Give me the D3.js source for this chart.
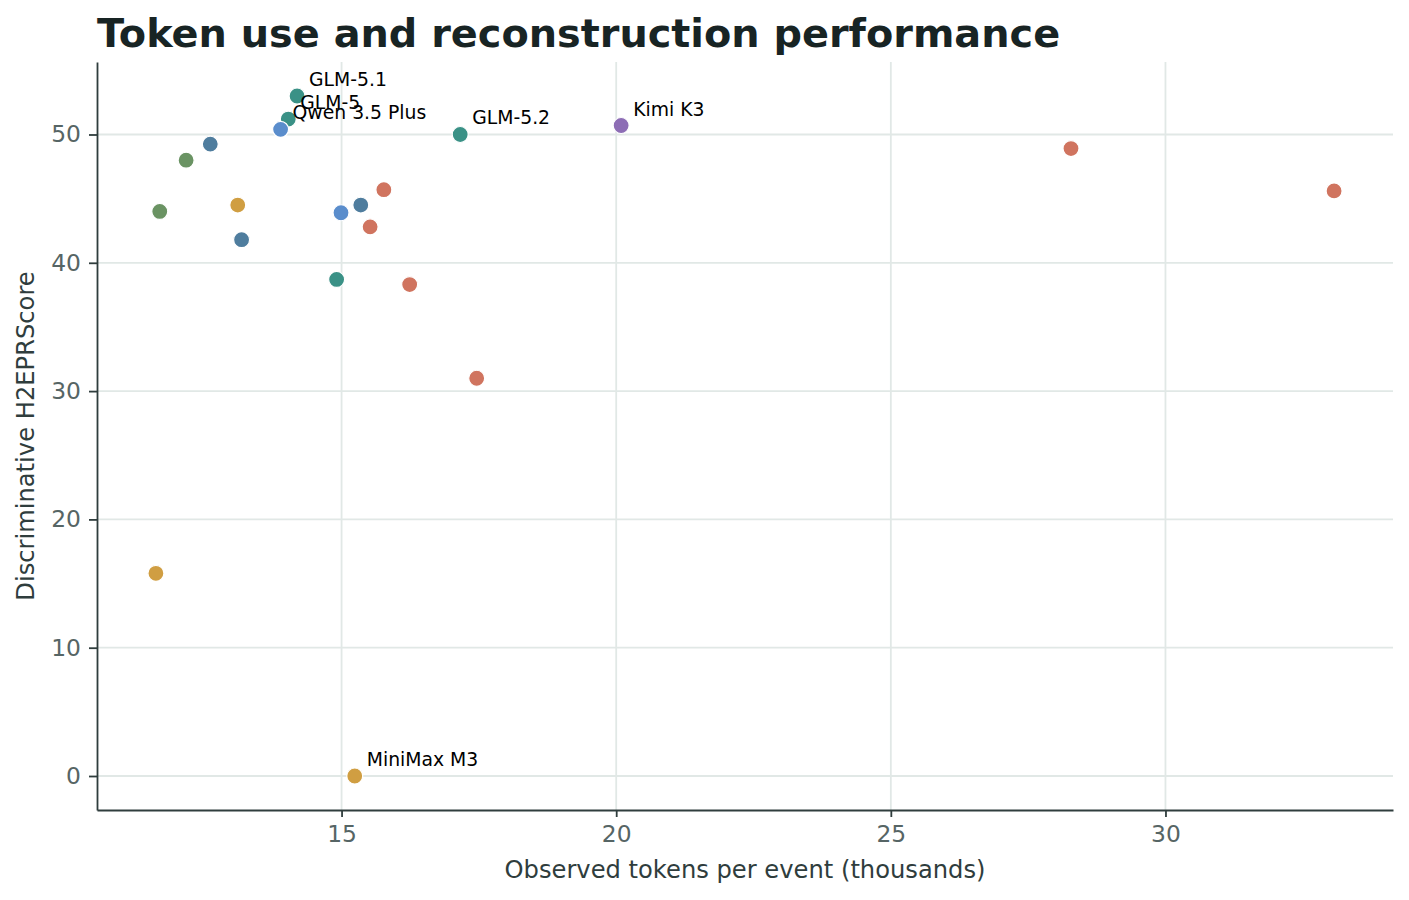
<!DOCTYPE html>
<html>
<head>
<meta charset="utf-8">
<script src="https://cdn.jsdelivr.net/npm/d3@7"></script>
<style>
  body { margin: 0; background: #fff; }
  text { font-family: "DejaVu Sans", sans-serif; }
</style>
</head>
<body>
<script>
var w = 1409;
var h = 900;
var margin = {top: 62, right: 16, bottom: 90, left: 97};

/*
    Data: tokens per event (thousands), score, family, label.
*/
var tokens = [14.19, 14.03, 13.89, 17.16, 20.09, 28.28, 33.07, 12.61, 12.17, 11.69,
              13.11, 13.18, 14.99, 15.35, 15.77, 15.52, 14.91, 16.24, 17.46, 11.62, 15.24];
var scores = [53.0, 51.2, 50.4, 50.0, 50.7, 48.9, 45.6, 49.25, 48.0, 44.0,
              44.5, 41.8, 43.9, 44.5, 45.7, 42.8, 38.7, 38.3, 31.0, 15.8, 0.0];
var families = ["glm", "glm", "qwen", "glm", "kimi", "red", "red", "steel", "green", "green",
                "gold", "steel", "qwen", "steel", "red", "red", "glm", "red", "red", "gold", "gold"];
var labels = ["GLM-5.1", "GLM-5", "Qwen 3.5 Plus", "GLM-5.2", "Kimi K3", "", "", "", "", "",
              "", "", "", "", "", "", "", "", "", "", "MiniMax M3"];
var xTicks = [15, 20, 25, 30];
var yTicks = [0, 10, 20, 30, 40, 50];

var familyColors = {
    glm: "#3a9186",
    qwen: "#5a8dcc",
    kimi: "#8d6db5",
    red: "#d0745f",
    steel: "#4f7d9e",
    green: "#6a9363",
    gold: "#d09e42"
};

var points = tokens.map(function(t, i) {
    return {x: t, y: scores[i], family: families[i], label: labels[i]};
});

/*
    Scales with a 5% margin on both ends, like the original.
*/
var xMin = d3.min(tokens), xMax = d3.max(tokens);
var yMin = d3.min(scores), yMax = d3.max(scores);
var xPad = (xMax - xMin) * 0.05;
var yPad = (yMax - yMin) * 0.05;

var xScale = d3.scaleLinear()
    .domain([xMin - xPad, xMax + xPad])
    .range([margin.left, w - margin.right]);

var yScale = d3.scaleLinear()
    .domain([yMin - yPad, yMax + yPad])
    .range([h - margin.bottom, margin.top]);

var svg = d3.select("body")
    .append("svg")
    .attr("width", w)
    .attr("height", h);

// grid lines
svg.append("g")
    .selectAll("line")
    .data(xTicks)
    .enter()
    .append("line")
    .attr("x1", function(d){ return xScale(d); })
    .attr("x2", function(d){ return xScale(d); })
    .attr("y1", margin.top)
    .attr("y2", h - margin.bottom)
    .attr("stroke", "#e1e8e6")
    .attr("stroke-width", 1.8);

svg.append("g")
    .selectAll("line")
    .data(yTicks)
    .enter()
    .append("line")
    .attr("x1", margin.left)
    .attr("x2", w - margin.right)
    .attr("y1", function(d){ return yScale(d); })
    .attr("y2", function(d){ return yScale(d); })
    .attr("stroke", "#e1e8e6")
    .attr("stroke-width", 1.8);

// axes
var xAxis = d3.axisBottom(xScale)
    .tickValues(xTicks)
    .tickSizeInner(7)
    .tickSizeOuter(0)
    .tickPadding(8);

var yAxis = d3.axisLeft(yScale)
    .tickValues(yTicks)
    .tickSizeInner(8)
    .tickSizeOuter(0)
    .tickPadding(8);

var gx = svg.append("g")
    .attr("transform", "translate(0," + (h - margin.bottom) + ")")
    .call(xAxis);

var gy = svg.append("g")
    .attr("transform", "translate(" + margin.left + ",0)")
    .call(yAxis);

[gx, gy].forEach(function(g) {
    g.select(".domain").attr("stroke", "#2f3d3d").attr("stroke-width", 1.8);
    g.selectAll(".tick line").attr("stroke", "#2f3d3d").attr("stroke-width", 1.8);
    g.selectAll(".tick text")
        .attr("fill", "#566565")
        .style("font-family", "DejaVu Sans")
        .style("font-size", "23.4px");
});

// points
svg.append("g")
    .selectAll("circle")
    .data(points)
    .enter()
    .append("circle")
    .attr("cx", function(d){ return xScale(d.x); })
    .attr("cy", function(d){ return yScale(d.y); })
    .attr("r", 8)
    .attr("fill", function(d){ return familyColors[d.family]; })
    .attr("stroke", "#ffffff")
    .attr("stroke-width", 1.2);

// annotations
svg.append("g")
    .selectAll("text")
    .data(points.filter(function(d){ return d.label !== ""; }))
    .enter()
    .append("text")
    .attr("x", function(d){ return xScale(d.x) + 12; })
    .attr("y", function(d){ return yScale(d.y) - 10; })
    .style("font-size", "18.8px")
    .attr("fill", "#000")
    .text(function(d){ return d.label; });

// title and axis labels
svg.append("text")
    .attr("x", margin.left)
    .attr("y", 47)
    .style("font-size", "39.8px")
    .style("font-weight", "bold")
    .attr("fill", "#182424")
    .text("Token use and reconstruction performance");

svg.append("text")
    .attr("x", (margin.left + w - margin.right) / 2)
    .attr("y", 878)
    .attr("text-anchor", "middle")
    .style("font-size", "24.2px")
    .attr("fill", "#2f3d3d")
    .text("Observed tokens per event (thousands)");

svg.append("text")
    .attr("transform", "translate(34," + ((margin.top + h - margin.bottom) / 2) + ") rotate(-90)")
    .attr("text-anchor", "middle")
    .style("font-size", "24.2px")
    .attr("fill", "#2f3d3d")
    .text("Discriminative H2EPRScore");
</script>
</body>
</html>
